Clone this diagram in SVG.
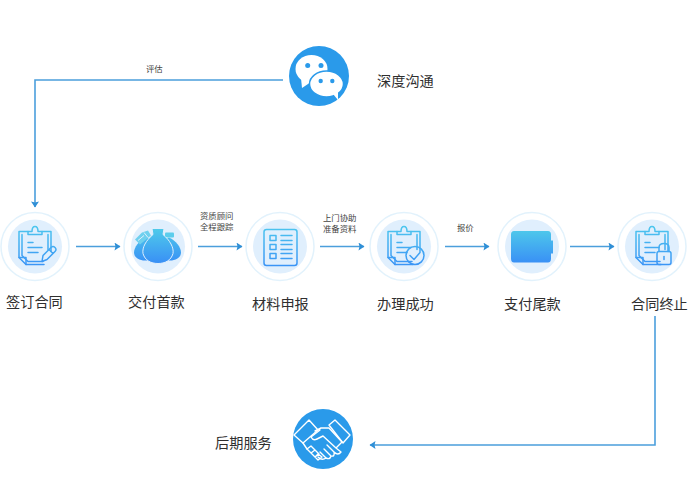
<svg xmlns="http://www.w3.org/2000/svg" width="688" height="482" viewBox="0 0 688 482">
<style>
text{font-family:"Liberation Sans","Noto Sans CJK SC",sans-serif;fill:#2f2f2f}
.t{font-size:14.2px}
.s{font-size:8.4px;fill:#444}
.c{fill:none;stroke:#4b9fdc;stroke-width:1.6}
.ring{fill:#fff;stroke:#e2f2fc;stroke-width:1.5}
.in{fill:#e0effd}
.i{fill:none;stroke:url(#g);stroke-width:1.5;stroke-linejoin:round;stroke-linecap:round}
.w{fill:none;stroke:#fff;stroke-width:1.4;stroke-linejoin:round;stroke-linecap:round}
</style>
<defs>
<linearGradient id="g" gradientUnits="userSpaceOnUse" x1="0" y1="-20" x2="0" y2="20"><stop offset="0" stop-color="#4cc6ee"/><stop offset="1" stop-color="#3a93f6"/></linearGradient>
<linearGradient id="f" gradientUnits="userSpaceOnUse" x1="0" y1="-18" x2="0" y2="18"><stop offset="0" stop-color="#4fcbea"/><stop offset="1" stop-color="#388df6"/></linearGradient>
<marker id="a" viewBox="0 0 6 8" refX="5.5" refY="4" markerWidth="3.800" markerHeight="5" markerUnits="strokeWidth" orient="auto"><path d="M0 0L6 4L0 8L1 4Z" fill="#2f8fd6"/></marker>
<g id="base"><circle class="ring" r="34"/><circle class="in" r="27"/></g>
<g id="board">
<path class="i" d="M-7-15H-16V11L-9 18H9M16 5V-15H7"/>
<path class="i" d="M-13-12V9L-7 15H8M13 3V-12"/>
<path class="i" d="M-7-12V-15H-3Q-3-20 0-20T3-15H7V-12Z"/>
<path class="i" d="M-16 11H-9V18M-7-4H-2M-7 1H7M-7 6H3"/>
</g>
</defs>

<g id="connectors">
<path class="c" d="M283 80H35V207" marker-end="url(#a)"/>
<path class="c" d="M76 246.500H120" marker-end="url(#a)"/>
<path class="c" d="M198 246.500H242" marker-end="url(#a)"/>
<path class="c" d="M320 246.500H364" marker-end="url(#a)"/>
<path class="c" d="M445 246.500H489" marker-end="url(#a)"/>
<path class="c" d="M570 246.500H614" marker-end="url(#a)"/>
<path class="c" d="M655 316V445H370" marker-end="url(#a)"/>
</g>

<g id="edge-labels">
<text class="s" x="146" y="72">评估</text>
<text class="s" x="200" y="219">资质顾问</text>
<text class="s" x="200" y="230">全程跟踪</text>
<text class="s" x="323" y="220.500">上门协助</text>
<text class="s" x="323" y="231.500">准备资料</text>
<text class="s" x="457" y="230.500">报价</text>
</g>

<g id="node-wechat">
<circle cx="319" cy="76" r="30" fill="#2a9aea"/>
<ellipse cx="311.500" cy="69" rx="16" ry="14" fill="#fff"/>
<path d="M301 78L302 88L311 82Z" fill="#fff"/>
<ellipse cx="326.500" cy="84" rx="17" ry="13" fill="#fff" stroke="#2a9aea" stroke-width="1.500"/>
<path d="M333 94L338 100L338 91Z" fill="#fff"/>
<circle cx="307.700" cy="65.500" r="2.500" fill="#2a9aea"/><circle cx="321" cy="65.500" r="2.500" fill="#2a9aea"/>
<circle cx="320.700" cy="81" r="2.200" fill="#2a9aea"/><circle cx="332.300" cy="81" r="2.200" fill="#2a9aea"/>
<text class="t" x="377" y="86">深度沟通</text>
</g>

<g id="node-sign" transform="translate(35 246.500)">
<use href="#base"/><use href="#board"/>
<path class="i" d="M7 15L8 9L16 1Q18-1 20 1T20 5L12 13ZM14 3L18 7" fill="#e0effd"/>
<text class="t" x="-29" y="60.500">签订合同</text>
</g>

<g id="node-pay" transform="translate(158 246.500)">
<use href="#base"/>
<path d="M-12-9C-19-6-24 1-24 6C-24 11-19 14-13 14H-4V-6Z" fill="url(#f)"/>
<path d="M-23-7L-16-14L-10-16L-7-11L-18-2Z" fill="#6fd0ee"/>
<path d="M-20-6L-14-11M-14-14L-10-9" stroke="#e0effd" stroke-width="1" fill="none"/>
<path d="M11-9C18-6 23 1 23 6C23 11 18 14 12 14H4V-6Z" fill="url(#f)"/>
<rect x="7" y="-14" width="9" height="5" rx="1" fill="#5bcdec"/>
<path d="M-6-18H6L5-12C12-6 16 1 15 7C13 14 7 17 0 17C-7 17-13 14-15 7C-16 1-12-6-5-12Z" fill="url(#f)" stroke="#e0effd" stroke-width="1"/>
<text class="t" x="-30" y="60.500">交付首款</text>
</g>

<g id="node-material" transform="translate(280 246.500)">
<use href="#base"/>
<rect class="i" x="-16" y="-17" width="33" height="36" rx="2.500"/>
<rect class="i" x="-10" y="-11" width="6" height="5"/><rect class="i" x="-10" y="-2" width="6" height="5"/><rect class="i" x="-10" y="7" width="6" height="5"/>
<path class="i" d="M1-11H12M1-6H12M1-2H12M1 3H12M1 7H12M1 12H12"/>
<text class="t" x="-28" y="62.500">材料申报</text>
</g>

<g id="node-done" transform="translate(404 246.500)">
<use href="#base"/><use href="#board"/>
<circle class="i" cx="11" cy="9" r="9" fill="#e0effd"/>
<path class="i" d="M6 9L10 13L16 6"/>
<text class="t" x="-27" y="62.500">办理成功</text>
</g>

<g id="node-final" transform="translate(532 246.500)">
<use href="#base"/>
<path d="M-18-15.500H16Q19-15.500 19-12V-6H21V7H19V12Q19 16 16 16H-18Q-21 16-21 12V-12Q-21-15.500-18-15.500Z" fill="url(#f)"/>
<text class="t" x="-28" y="62.500">支付尾款</text>
</g>

<g id="node-end" transform="translate(652 246.500)">
<use href="#base"/><use href="#board"/>
<path class="i" d="M7 5V1Q7-3 12-3T17 1V5" fill="#e0effd"/>
<rect class="i" x="5" y="5" width="14" height="13" rx="2" fill="#e0effd"/>
<path class="i" d="M12 10V13"/>
<text class="t" x="-21" y="62.500">合同终止</text>
</g>

<g id="node-service">
<circle cx="323" cy="439" r="30" fill="#2a9aea"/>
<g transform="translate(323 439)">
<path class="w" d="M-29-4L-14-19L-5-9L-20 4ZM6-14L12-19L27-4L20 4Z"/>
<path class="w" d="M-20 4L-16 10M-8-8L-2-11H6L19 3L13 9L0-3L-6 0Q-10 2-12-2L-3-9M13 9L18 13Q15 17 11 13L4 6M11 13Q12 18 8 17L1 10M8 17Q7 21 3 19L-3 13M3 19Q-1 22-5 18"/>
<path class="w" d="M-16 10L-12 7L-8 11L-12 14ZM-12 14L-8 11L-4 15L-8 18ZM-8 18L-5 15L-1 18L-5 21Z"/>
</g>
<text class="t" x="215" y="448">后期服务</text>
</g>
</svg>
